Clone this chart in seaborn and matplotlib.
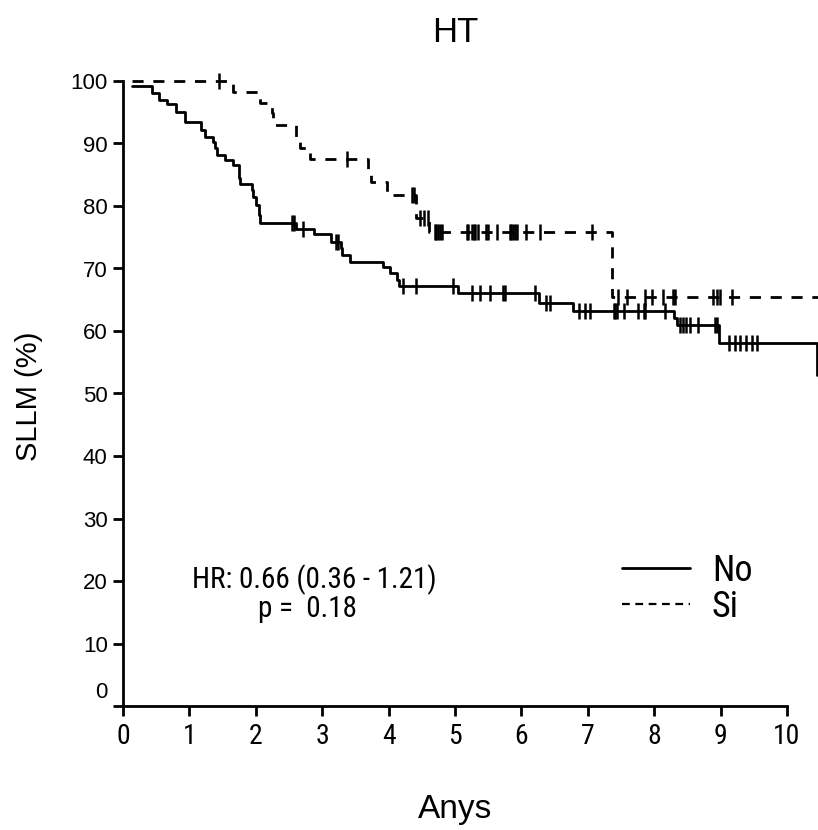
import numpy as np
import pandas as pd
import matplotlib
matplotlib.use("Agg")
import matplotlib.pyplot as plt
import seaborn as sns
from matplotlib import font_manager as fm
from matplotlib.lines import Line2D
from matplotlib.transforms import ScaledTranslation

# ---------------- data ----------------
no_times = [0.13, 0.44, 0.54, 0.66, 0.80, 0.93, 1.18, 1.23, 1.36, 1.39, 1.41, 1.54,
            1.66, 1.74, 1.75, 1.76, 1.94, 1.96, 2.01, 2.05, 2.07, 2.61, 2.88, 3.14,
            3.28, 3.30, 3.42, 3.92, 4.02, 4.12, 4.15, 5.05, 6.27, 6.78, 8.30, 8.35,
            8.97, 10.45]
no_surv = [99.2, 98.1, 97.0, 96.3, 95.0, 93.4, 92.2, 91.1, 90.3, 89.2, 88.2, 87.4,
           86.5, 85.5, 84.5, 83.5, 82.6, 81.5, 80.2, 78.6, 77.3, 76.3, 75.5, 74.3,
           73.2, 72.2, 71.1, 70.3, 69.2, 68.2, 67.2, 66.0, 64.5, 63.2, 62.0, 61.0,
           58.0, 53.0]
no_censored = [2.54, 2.57, 2.71, 3.21, 3.24, 4.21, 4.42, 4.97, 5.25, 5.38, 5.52,
               5.73, 5.75, 6.20, 6.37, 6.43, 6.86, 6.96, 7.03, 7.39, 7.41, 7.44,
               7.54, 7.76, 7.84, 7.86, 8.16, 8.39, 8.43, 8.48, 8.54, 8.66, 8.91,
               8.95, 9.12, 9.22, 9.29, 9.38, 9.47, 9.55]

si_times = [0.13, 1.66, 2.06, 2.24, 2.26, 2.60, 2.67, 2.82, 3.69, 3.74, 3.97, 4.42,
            4.61, 7.36, 10.47]
si_surv = [100.0, 98.3, 96.5, 94.8, 93.0, 91.1, 89.2, 87.5, 85.8, 83.9, 81.8, 78.0,
           75.8, 65.4, 65.4]
si_censored = [1.44, 3.37, 4.35, 4.38, 4.47, 4.53, 4.60, 4.70, 4.72, 4.75, 4.77,
               4.80, 5.18, 5.20, 5.25, 5.28, 5.30, 5.35, 5.47, 5.49, 5.63, 5.83,
               5.85, 5.88, 5.90, 5.93, 6.07, 6.28, 7.06, 7.46, 7.59, 7.86, 7.96,
               8.14, 8.29, 8.31, 8.89, 8.94, 8.99, 9.17]

groups = ["No", "Si"]
x_ticks = list(range(0, 11))
y_ticks = list(range(0, 101, 10))
title = "HT"
x_label = "Anys"
y_label = "SLLM (%)"
hr_text = "HR: 0.66 (0.36 - 1.21)"
p_text = "p =  0.18"

# ---------------- fonts ----------------
def has_font(name):
    try:
        fm.findfont(fm.FontProperties(family=name), fallback_to_default=False)
        return True
    except Exception:
        return False

REG = "Liberation Sans" if has_font("Liberation Sans") else "DejaVu Sans"
NARROW = None
for cand in ["Liberation Sans Narrow", "Arial Narrow", "Roboto Condensed",
             "Open Sans Condensed", "DejaVu Sans Condensed", "Noto Sans Condensed"]:
    if has_font(cand):
        NARROW = cand
        break
if NARROW is None:
    for f in fm.fontManager.ttflist:
        if ("Narrow" in f.name or "Condensed" in f.name) and "Mono" not in f.name:
            NARROW = f.name
            break
HAVE_NARROW = NARROW is not None
if NARROW is None:
    NARROW = REG

sns.set_theme(style="ticks")
plt.rcParams["font.family"] = [REG, "DejaVu Sans"]
for k in ("text.color", "axes.labelcolor", "xtick.color", "ytick.color",
          "axes.edgecolor"):
    plt.rcParams[k] = "black"

# ---------------- build frames ----------------
steps = pd.concat([
    pd.DataFrame({"t": no_times, "s": no_surv, "g": "No"}),
    pd.DataFrame({"t": si_times, "s": si_surv, "g": "Si"}),
], ignore_index=True)

def level_at(times, surv, c):
    i = np.searchsorted(times, c, side="right") - 1
    return surv[max(i, 0)]

cens = pd.concat([
    pd.DataFrame({"t": no_censored,
                  "s": [level_at(no_times, no_surv, c) for c in no_censored], "g": "No"}),
    pd.DataFrame({"t": si_censored,
                  "s": [level_at(si_times, si_surv, c) for c in si_censored], "g": "Si"}),
], ignore_index=True)

# ---------------- figure ----------------
W, H = 818, 830
fig = plt.figure(figsize=(W / 100, H / 100), dpi=100)
ax = fig.add_axes([123 / W, 1 - 706 / H, 664 / W, 625 / H])

dash = (4, 3.5)
sns.lineplot(data=steps, x="t", y="s", hue="g", style="g",
             palette={"No": "black", "Si": "black"},
             dashes={"No": "", "Si": dash},
             drawstyle="steps-post", estimator=None, sort=False,
             linewidth=2.0, legend=False, ax=ax, clip_on=False)

sns.scatterplot(data=cens, x="t", y="s", marker="|", s=120, color="black",
                linewidth=1.8, legend=False, ax=ax, clip_on=False, zorder=3)

ax.set_xlim(0, 10)
ax.set_ylim(0, 100)
ax.set_xticks(x_ticks)
ax.set_yticks(y_ticks)
xt_size = 20 if HAVE_NARROW else 17.5
ax.set_xticklabels([str(v) for v in x_ticks], fontfamily=NARROW, fontsize=xt_size)
ax.set_yticklabels([str(v) for v in y_ticks], fontsize=16)
ax.tick_params(axis="both", length=7, width=2, color="black", labelcolor="black")
ax.tick_params(axis="x", pad=5)
ax.tick_params(axis="y", pad=4)
for side in ("top", "right"):
    ax.spines[side].set_visible(False)
for side in ("left", "bottom"):
    ax.spines[side].set_linewidth(2)
    ax.spines[side].set_color("black")
ax.spines["left"].set_bounds(0, 100)
ax.spines["bottom"].set_bounds(0, 10)
ax.set_facecolor("white")

# raise the y "0" label as in the reference
lab0 = ax.yaxis.get_major_ticks()[0].label1
lab0.set_transform(lab0.get_transform() + ScaledTranslation(0, 16 / 100, fig.dpi_scale_trans))

ax.set_xlabel(x_label, fontsize=24)
ax.xaxis.set_label_coords(0.5, -0.165)
ax.xaxis.label.set_va("center")
ax.set_ylabel(y_label, fontsize=21)
ax.yaxis.set_label_coords(-0.142, 0.495)
ax.yaxis.label.set_va("center")

ax.text(0.5, 1.077, title, transform=ax.transAxes, ha="center", va="center", fontsize=25)
ann_size = 21 if HAVE_NARROW else 17.8
ax.text(0.2877, 0.2016, hr_text, transform=ax.transAxes, ha="center", va="center",
        fontsize=ann_size, fontfamily=NARROW)
ax.text(0.278, 0.155, p_text, transform=ax.transAxes, ha="center", va="center",
        fontsize=ann_size, fontfamily=NARROW)

leg_size = 26 if HAVE_NARROW else 22
handles = [Line2D([], [], color="black", linewidth=2.0),
           Line2D([], [], color="black", linewidth=1.6, linestyle=(0, (3.5, 2.5)))]
leg = ax.legend(handles, groups, loc="center left", bbox_to_anchor=(0.7515, 0.188),
                frameon=False, handlelength=68 / 1.389 / leg_size,
                handletextpad=22 / 1.389 / leg_size, labelspacing=0.0,
                prop={"family": NARROW, "size": leg_size}, borderpad=0,
                borderaxespad=0)

fig.savefig("out.png", dpi=100, facecolor="white")
